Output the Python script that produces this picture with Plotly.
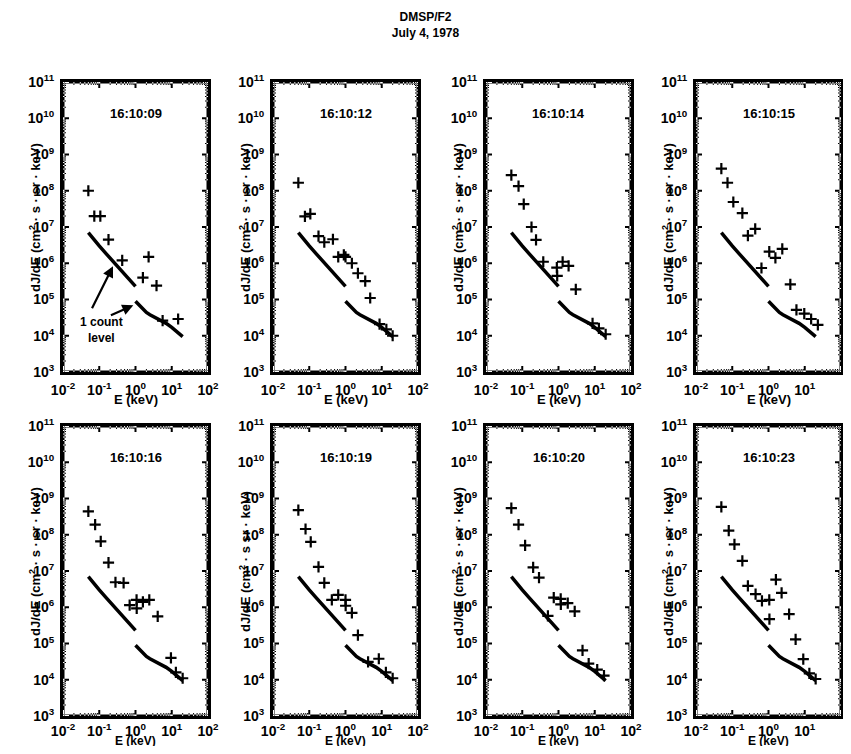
import math
import plotly.graph_objects as go

# ---------------- data ----------------
panel_times = ["16:10:09", "16:10:12", "16:10:14", "16:10:15",
               "16:10:16", "16:10:19", "16:10:20", "16:10:23"]

E_0909 = [0.05, 0.073, 0.107, 0.18, 0.43, 1.6, 2.3, 3.8, 5.6, 15]
J_0909 = [1.0e8, 2.0e7, 2.0e7, 4.5e6, 1.2e6, 4.0e5, 1.5e6, 2.4e5, 2.6e4, 2.9e4]

E_1012 = [0.05, 0.076, 0.107, 0.18, 0.26, 0.45, 0.63, 0.9, 1.0, 1.5, 2.2, 3.5, 4.8, 8.7, 13.4, 20]
J_1012 = [1.66e8, 1.96e7, 2.3e7, 5.6e6, 3.8e6, 4.6e6, 1.5e6, 1.7e6, 1.5e6, 1.0e6, 5.3e5, 3.2e5, 1.1e5, 2.1e4, 1.5e4, 1.0e4]

E_1014 = [0.05, 0.079, 0.11, 0.18, 0.24, 0.38, 0.9, 0.92, 1.3, 1.9, 3.0, 8.7, 13, 20]
J_1014 = [2.7e8, 1.35e8, 4.3e7, 1.0e7, 4.4e6, 1.1e6, 7.6e5, 4.5e5, 1.1e6, 8.5e5, 1.9e5, 2.2e4, 1.6e4, 1.1e4]

E_1015 = [0.05, 0.074, 0.107, 0.19, 0.27, 0.43, 0.64, 1.05, 1.55, 2.4, 4.0, 5.9, 9.7, 15, 23]
J_1015 = [4.1e8, 1.66e8, 4.9e7, 2.4e7, 5.8e6, 8.9e6, 7.4e5, 2.1e6, 1.4e6, 2.5e6, 2.6e5, 5.2e4, 4.1e4, 2.9e4, 2.0e4]

E_1016 = [0.05, 0.077, 0.11, 0.18, 0.28, 0.47, 0.69, 1.07, 1.08, 1.6, 2.4, 4.1, 9.5, 13, 20]
J_1016 = [4.4e8, 1.9e8, 6.6e7, 1.7e7, 4.9e6, 4.7e6, 1.15e6, 1.6e6, 9.3e5, 1.4e6, 1.6e6, 5.6e5, 4.0e4, 1.6e4, 1.1e4]

E_1019 = [0.05, 0.079, 0.11, 0.18, 0.26, 0.42, 0.63, 1.0, 1.01, 1.5, 2.2, 4.2, 8.3, 13, 20]
J_1019 = [4.8e8, 1.44e8, 6.4e7, 1.3e7, 4.7e6, 1.6e6, 2.2e6, 1.6e6, 1.1e6, 7.0e5, 1.7e5, 3.1e4, 3.8e4, 1.6e4, 1.1e4]

E_1020 = [0.05, 0.079, 0.12, 0.2, 0.29, 0.51, 0.74, 1.15, 1.16, 1.8, 2.8, 4.6, 6.8, 11.7, 18]
J_1020 = [5.4e8, 1.9e8, 5.1e7, 1.26e7, 6.6e6, 5.8e5, 1.85e6, 1.7e6, 1.2e6, 1.3e6, 7.7e5, 6.5e4, 2.8e4, 1.9e4, 1.3e4]

E_1023 = [0.05, 0.08, 0.115, 0.19, 0.27, 0.44, 0.66, 1.05, 1.06, 1.6, 2.3, 3.7, 5.6, 9.1, 13.4, 20]
J_1023 = [5.9e8, 1.3e8, 5.4e7, 1.9e7, 3.9e6, 2.3e6, 1.5e6, 1.6e6, 4.7e5, 5.8e6, 2.5e6, 6.5e5, 1.3e5, 3.7e4, 1.5e4, 1.05e4]

panel_E = [E_0909, E_1012, E_1014, E_1015, E_1016, E_1019, E_1020, E_1023]
panel_J = [J_0909, J_1012, J_1014, J_1015, J_1016, J_1019, J_1020, J_1023]

# one-count level (low and high energy detectors)
count_E_low = [0.05, 0.065, 0.083, 0.1, 0.15, 0.22, 0.33, 0.5, 0.7, 1.0]
count_J_low = [7.0e6, 5.0e6, 3.8e6, 3.0e6, 1.9e6, 1.25e6, 7.9e5, 5.0e5, 3.4e5, 2.3e5]
count_E_high = [1.0, 1.3, 1.6, 2.0, 2.5, 3.5, 5.0, 7.0, 10.0, 14.0, 20.0]
count_J_high = [9.0e4, 6.8e4, 5.3e4, 4.4e4, 3.8e4, 3.2e4, 2.7e4, 2.2e4, 1.7e4, 1.3e4, 9.5e3]

x_tick_vals = [1e-2, 1e-1, 1e0, 1e1, 1e2]
x_tick_text = ["<b>10<sup>-2</sup></b>", "<b>10<sup>-1</sup></b>", "<b>10<sup>0</sup></b>",
               "<b>10<sup>1</sup></b>", "<b>10<sup>2</sup></b>"]
y_tick_vals = [1e3, 1e4, 1e5, 1e6, 1e7, 1e8, 1e9, 1e10, 1e11]
y_tick_text = ["<b>10<sup>3</sup></b>", "<b>10<sup>4</sup></b>", "<b>10<sup>5</sup></b>",
               "<b>10<sup>6</sup></b>", "<b>10<sup>7</sup></b>", "<b>10<sup>8</sup></b>",
               "<b>10<sup>9</sup></b>", "<b>10<sup>10</sup></b>", "<b>10<sup>11</sup></b>"]

y_titles = ["<b>dJ/dE (cm<sup>2</sup> · s · sr · keV)</b>"] * 8
y_titles[5] = "<b>dJ/dE (cm<sup>2</sup> · s sr · keV)</b>"

# ---------------- layout geometry (page pixels; page body has 8px margin) ----------------
PAGE_W, PAGE_H = 851, 754
OFF = 8
W, H = PAGE_W - 2 * OFF, PAGE_H - 2 * OFF
col_left = [63, 273, 486, 696]
panel_w = 145
row_top = [82, 426]
panel_h = 290
X_LOG_RANGE = [-2, 2]
Y_LOG_RANGE = [3, 11]
FRAME_PX = 3.0
MAJOR = (2.0, 6.0)   # tick (width, length) in px
MINOR = (1.0, 3.0)

def px(xp):
    return (xp - OFF) / W

def py(yp):
    return 1 - (yp - OFF) / H

FONT = "Liberation Sans, Arial, Helvetica, sans-serif"


def minor_vals(lo, hi):
    return [m * 10.0 ** d for d in range(lo, hi) for m in range(2, 10)]


def rect(x0, x1, y0, y1):
    return f"M{x0:.6f},{y0:.6f} L{x1:.6f},{y0:.6f} L{x1:.6f},{y1:.6f} L{x0:.6f},{y1:.6f} Z"


def frame_and_ticks_path(domx, domy):
    """Filled bands (paper coordinates) for the box and the inside ticks."""
    (a, b), (c, d) = domx, domy
    tx, ty = FRAME_PX / W / 2, FRAME_PX / H / 2
    parts = [rect(a - tx, a + tx, c - ty, d + ty), rect(b - tx, b + tx, c - ty, d + ty),
             rect(a - tx, b + tx, c - ty, c + ty), rect(a - tx, b + tx, d - ty, d + ty)]
    for vals_x, vals_y, (wpx, lpx) in [(x_tick_vals, y_tick_vals, MAJOR),
                                       (minor_vals(-2, 2), minor_vals(3, 11), MINOR)]:
        hw_x, ln_y = wpx / W / 2, lpx / H
        hw_y, ln_x = wpx / H / 2, lpx / W
        for v in vals_x:
            f = (math.log10(v) - X_LOG_RANGE[0]) / (X_LOG_RANGE[1] - X_LOG_RANGE[0])
            xx = a + f * (b - a)
            parts.append(rect(xx - hw_x, xx + hw_x, c, c + ln_y))
            parts.append(rect(xx - hw_x, xx + hw_x, d - ln_y, d))
        for v in vals_y:
            f = (math.log10(v) - Y_LOG_RANGE[0]) / (Y_LOG_RANGE[1] - Y_LOG_RANGE[0])
            yy = c + f * (d - c)
            parts.append(rect(a, a + ln_x, yy - hw_y, yy + hw_y))
            parts.append(rect(b - ln_x, b, yy - hw_y, yy + hw_y))
    return " ".join(parts)


fig = go.Figure()
annotations = []
shapes = []

for i in range(8):
    r, c = divmod(i, 4)
    sfx = "" if i == 0 else str(i + 1)
    xa, ya = "x" + sfx, "y" + sfx
    domx = [px(col_left[c]), px(col_left[c] + panel_w)]
    domy = [py(row_top[r] + panel_h), py(row_top[r])]

    fig.add_trace(go.Scatter(x=count_E_low, y=count_J_low, mode="lines",
                             line=dict(color="black", width=3.5), xaxis=xa, yaxis=ya,
                             showlegend=False, hoverinfo="skip"))
    fig.add_trace(go.Scatter(x=count_E_high, y=count_J_high, mode="lines",
                             line=dict(color="black", width=3.5), xaxis=xa, yaxis=ya,
                             showlegend=False, hoverinfo="skip"))
    fig.add_trace(go.Scatter(x=panel_E[i], y=panel_J[i], mode="markers",
                             marker=dict(symbol="cross-thin", size=8, color="black",
                                         line=dict(width=2.2, color="black")),
                             xaxis=xa, yaxis=ya, showlegend=False))

    common = dict(showline=True, linewidth=3, linecolor="black", mirror=True,
                  ticks="", showgrid=False, zeroline=False, type="log",
                  automargin=False, tickfont=dict(family=FONT, size=14, color="black"))
    fig.layout["xaxis" + sfx] = dict(
        domain=domx, range=X_LOG_RANGE, anchor=ya,
        tickmode="array", tickvals=x_tick_vals, ticktext=x_tick_text,
        ticklabelstandoff=(3 if r == 0 else 0), **common)
    fig.layout["yaxis" + sfx] = dict(
        domain=domy, range=Y_LOG_RANGE, anchor=xa,
        tickmode="array", tickvals=y_tick_vals, ticktext=y_tick_text, ticklabelstandoff=3,
        **common)

    shapes.append(dict(type="path", xref="paper", yref="paper",
                       path=frame_and_ticks_path(domx, domy),
                       fillcolor="black", line=dict(width=0), layer="above"))

    annotations.append(dict(text="<b>" + panel_times[i] + "</b>", xref=xa + " domain", yref=ya,
                            x=0.5, y=10.12, showarrow=False,
                            font=dict(family=FONT, size=13, color="black")))
    annotations.append(dict(text="<b>E (keV)</b>", xref="paper", yref="paper",
                            x=px(col_left[c] + panel_w / 2),
                            y=py(row_top[r] + panel_h + (27 if r == 0 else 25)),
                            xanchor="center", yanchor="middle", showarrow=False,
                            font=dict(family=FONT, size=(13 if r == 0 else 12), color="black")))
    annotations.append(dict(text=y_titles[i], xref="paper", yref="paper",
                            x=px(col_left[c] - 28),
                            y=py(row_top[r] + 136),
                            xanchor="center", yanchor="middle", textangle=-90,
                            showarrow=False,
                            font=dict(family=FONT, size=13, color="black")))

annotations.append(dict(text="<b>1 count<br>level</b>", xref="x", yref="y", x=-0.93, y=4.15,
                        showarrow=False, align="center",
                        font=dict(family=FONT, size=12, color="black")))
annotations.append(dict(text="", xref="x", yref="y", x=-0.62, y=5.92,
                        axref="x", ayref="y", ax=-1.22, ay=4.72,
                        showarrow=True, arrowhead=2, arrowsize=1, arrowwidth=2.2,
                        arrowcolor="black"))
annotations.append(dict(text="", xref="x", yref="y", x=-0.06, y=4.84,
                        axref="x", ayref="y", ax=-0.72, ay=4.55,
                        showarrow=True, arrowhead=2, arrowsize=1, arrowwidth=2.2,
                        arrowcolor="black"))

fig.update_layout(
    template="none",
    width=W, height=H, margin=dict(l=0, r=0, t=0, b=0, autoexpand=False),
    paper_bgcolor="white", plot_bgcolor="rgba(0,0,0,0)",
    title=dict(text="<b>DMSP/F2<br>July 4, 1978</b>", x=px(425.5), xanchor="center",
               y=py(21), yanchor="middle", automargin=False,
               font=dict(family=FONT, size=12, color="black")),
    annotations=annotations,
    shapes=shapes,
    showlegend=False,
)

fig.write_html("out.html")
